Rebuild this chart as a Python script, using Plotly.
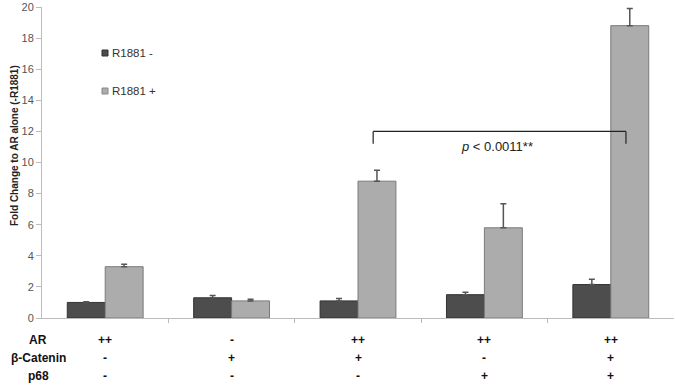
import plotly.graph_objects as go

groups = [0, 1, 2, 3, 4]
r_minus = [1.0, 1.3, 1.1, 1.5, 2.15]
r_minus_err = [0.05, 0.15, 0.15, 0.15, 0.35]
r_plus = [3.3, 1.1, 8.8, 5.8, 18.8]
r_plus_err = [0.15, 0.1, 0.7, 1.55, 1.1]
row_names = ["AR", "β-Catenin", "p68"]
row_AR = ["++", "-", "++", "++", "++"]
row_bcat = ["-", "+", "+", "-", "+"]
row_p68 = ["-", "-", "-", "+", "+"]
y_ticks = [0, 2, 4, 6, 8, 10, 12, 14, 16, 18, 20]
series_names = ["R1881 -", "R1881 +"]

FONT = "Liberation Sans"
DARK = "#4d4d4d"
LIGHT = "#acacac"
W, H = 675, 385
ML, MR, MT, MB = 42, 1, 7, 67
PW, PH = W - ML - MR, H - MT - MB


def px_x(p):
    return (p - ML) / PW


def px_y(p):
    return (H - MB - p) / PH


fig = go.Figure()
fig.add_trace(go.Bar(
    x=groups, y=r_minus, name=series_names[0], showlegend=False,
    marker=dict(color=DARK, line=dict(color="#333333", width=1)),
    error_y=dict(type="data", array=r_minus_err, arrayminus=[0]*5, symmetric=False,
                 color="#555555", thickness=1.5, width=3),
))
fig.add_trace(go.Bar(
    x=groups, y=r_plus, name=series_names[1], showlegend=False,
    marker=dict(color=LIGHT, line=dict(color="#7a7a7a", width=1)),
    error_y=dict(type="data", array=r_plus_err, arrayminus=[0]*5, symmetric=False,
                 color="#555555", thickness=1.5, width=3),
))

# legend (swatch + label)
for nm, col, lc, cy in [(series_names[0], DARK, "#333333", 53), (series_names[1], LIGHT, "#888888", 91)]:
    fig.add_shape(type="rect", xref="paper", yref="paper",
                  x0=px_x(102), x1=px_x(108), y0=px_y(cy + 3), y1=px_y(cy - 3),
                  fillcolor=col, line=dict(color=lc, width=1))
    fig.add_annotation(x=px_x(110), y=px_y(cy), xref="paper", yref="paper", showarrow=False,
                       text=nm, xanchor="left", yanchor="middle",
                       font=dict(size=11.5, color="#333333", family=FONT))

# significance bracket
xl, xr, yt, yb = 2.12, 4.12, 12.0, 11.2
for (x0, y0, x1, y1) in [(xl, yt, xr, yt), (xl, yb, xl, yt), (xr, yb, xr, yt)]:
    fig.add_shape(type="line", x0=x0, y0=y0, x1=x1, y1=y1, xref="x", yref="y",
                  line=dict(color="#222222", width=1.2))
fig.add_annotation(x=3.1, y=11.05, xref="x", yref="y", showarrow=False,
                   text="<i>p</i> < 0.0011**", font=dict(size=13, color="#222222", family=FONT))

# y-axis title
fig.add_annotation(x=px_x(14), y=px_y(146), xref="paper", yref="paper", showarrow=False,
                   text="<b>Fold Change to AR alone (-R1881)</b>", textangle=-90,
                   xanchor="center", yanchor="middle",
                   font=dict(size=10, color="#222222", family=FONT))

# condition table below the axis
rows = [row_AR, row_bcat, row_p68]
row_px = [340, 358, 376]
for name, vals, yp in zip(row_names, rows, row_px):
    yy = px_y(yp)
    fig.add_annotation(x=px_x(38), y=yy, xref="paper", yref="paper", showarrow=False,
                       text="<b>%s</b>" % name, xanchor="center", yanchor="middle",
                       font=dict(size=12, color="#111111", family=FONT))
    for g, v in zip(groups, vals):
        fig.add_annotation(x=g, y=yy, xref="x", yref="paper", showarrow=False,
                           text="<b>%s</b>" % v, xanchor="center", yanchor="middle",
                           font=dict(size=12, color="#111111", family=FONT))

fig.update_layout(
    width=W, height=H,
    margin=dict(l=ML, r=MR, t=MT, b=MB),
    paper_bgcolor="white", plot_bgcolor="white",
    barmode="group", bargap=0.4, bargroupgap=0,
    font=dict(family=FONT, color="#444444"),
    showlegend=False,
)
fig.update_xaxes(range=[-0.5, 4.5], tickvals=[0.5, 1.5, 2.5, 3.5], ticktext=["", "", "", ""],
                 ticks="outside", ticklen=4, tickcolor="#bbbbbb", showline=True,
                 linecolor="#bbbbbb", linewidth=1, showgrid=False, zeroline=False)
fig.update_yaxes(range=[0, 20], tickvals=y_ticks, ticks="outside", ticklen=5,
                 tickcolor="#bbbbbb", showline=True, linecolor="#bbbbbb", linewidth=1,
                 showgrid=False, zeroline=False,
                 tickfont=dict(size=11, color="#555555", family=FONT))

fig.write_html("out.html", config={"displayModeBar": False},
               post_script="document.body.style.margin='0';")
